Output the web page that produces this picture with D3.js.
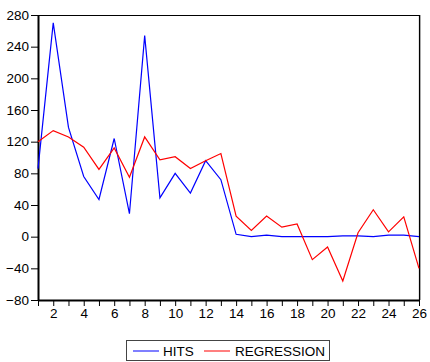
<!DOCTYPE html>
<html>
<head>
<meta charset="utf-8">
<script src="https://cdn.jsdelivr.net/npm/d3@7/dist/d3.min.js"></script>
<style>
  html, body { margin: 0; padding: 0; background: #fff; }
  svg { display: block; font-family: "Liberation Sans", Arial, sans-serif; }
</style>
</head>
<body>
<svg id="chart" width="430" height="362"></svg>
<script>
// Observation index 1..26
const periods = d3.range(1, 27);

// Actual hits per period
const hits = [86, 270, 138, 76, 47, 124, 29, 254, 49, 80, 55, 96, 72,
              3, 0, 2, 0, 0, 0, 0, 1, 1, 0, 2, 2, 0];

// Fitted values from the regression
const regression = [120, 134, 126, 113, 85, 112, 75, 126, 97, 101, 86, 96, 105,
                    26, 8, 26, 12, 16, -29, -13, -56, 5, 34, 6, 25, -40];

const yTicks = [-80, -40, 0, 40, 80, 120, 160, 200, 240, 280];
const xLabelTicks = [2, 4, 6, 8, 10, 12, 14, 16, 18, 20, 22, 24, 26];

const seriesNames = ["HITS", "REGRESSION"];
const seriesColors = ["#0000ff", "#ff0000"];
const legendColors = ["#7f7fff", "#ff7f7f"];

const svg = d3.select("#chart");
const plot = { left: 38, right: 419, top: 15, bottom: 300 };

const x = d3.scaleLinear().domain([1, 26]).range([plot.left, plot.right]);
const y = d3.scaleLinear().domain([-80, 280]).range([plot.bottom, plot.top]);

// Frame: top and right edges
svg.append("line").attr("x1", plot.left).attr("x2", plot.right)
  .attr("y1", plot.top + 0.5).attr("y2", plot.top + 0.5)
  .attr("stroke", "#000").attr("stroke-width", 1.2);
svg.append("line").attr("x1", plot.right + 0.5).attr("x2", plot.right + 0.5)
  .attr("y1", plot.top).attr("y2", plot.bottom)
  .attr("stroke", "#000").attr("stroke-width", 1.2);
svg.append("line").attr("x1", plot.right + 1.5).attr("x2", plot.right + 1.5)
  .attr("y1", plot.top).attr("y2", plot.bottom)
  .attr("stroke", "#aaa").attr("stroke-width", 1);

// Y axis
const yAxis = svg.append("g")
  .attr("transform", `translate(${plot.left},0)`)
  .call(d3.axisLeft(y).tickValues(yTicks).tickSize(7).tickPadding(2).tickSizeOuter(0));
yAxis.select(".domain").attr("stroke-width", 2);
yAxis.selectAll("text").attr("font-size", "13.5px").attr("fill", "#000")
  .attr("font-family", "'Liberation Sans', Arial, sans-serif");

// X axis: ticks at every period, labels on even ones
const xAxis = svg.append("g")
  .attr("transform", `translate(0,${plot.bottom})`)
  .call(d3.axisBottom(x).tickValues(periods).tickSize(6).tickPadding(2).tickSizeOuter(0)
    .tickFormat(d => xLabelTicks.includes(d) ? d : ""));
xAxis.select(".domain").attr("stroke-width", 2);
xAxis.selectAll("text").attr("font-size", "13.5px").attr("fill", "#000")
  .attr("font-family", "'Liberation Sans', Arial, sans-serif");

// Series lines
const line = d3.line().x((d, i) => x(periods[i])).y(d => y(d));
[hits, regression].forEach((vals, k) => {
  svg.append("path").datum(vals)
    .attr("d", line)
    .attr("fill", "none")
    .attr("stroke", seriesColors[k])
    .attr("stroke-width", 1.2)
    .attr("stroke-linejoin", "miter");
});

// Legend
const legend = svg.append("g");
legend.append("rect").attr("x", 126.5).attr("y", 340.5).attr("width", 203).attr("height", 20)
  .attr("fill", "#fff").attr("stroke", "#444").attr("stroke-width", 1);
const legendItems = [
  { lineX: 133, textX: 163 },
  { lineX: 204, textX: 235 }
];
legendItems.forEach((it, k) => {
  legend.append("line").attr("x1", it.lineX).attr("x2", it.lineX + 26)
    .attr("y1", 351).attr("y2", 351)
    .attr("stroke", legendColors[k]).attr("stroke-width", 2);
  legend.append("text").attr("x", it.textX).attr("y", 356)
    .attr("font-size", "13.5px").attr("fill", "#000")
    .text(seriesNames[k]);
});
</script>
</body>
</html>
